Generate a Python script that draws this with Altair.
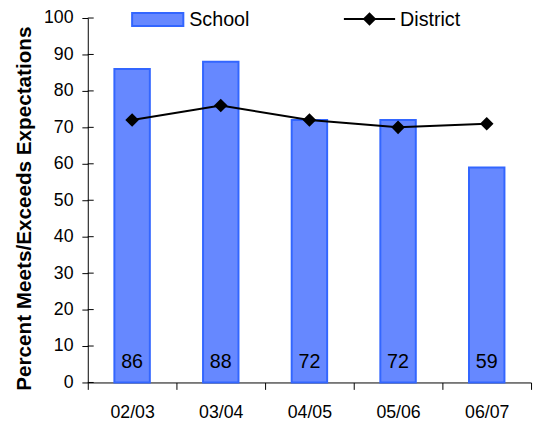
import altair as alt
import pandas as pd

years = ["02/03", "03/04", "04/05", "05/06", "06/07"]
school = [86, 88, 72, 72, 59]
district = [72, 76, 72, 70, 71]
y_ticks = list(range(0, 101, 10))

df = pd.DataFrame({"year": years, "school": school, "district": district})
ticks_df = pd.DataFrame({"v": y_ticks})

FONT = "Liberation Sans"
BAR_FILL = "#6688FF"
BAR_STROKE = "#3366FF"

x_enc = alt.X(
    "year:N", sort=years,
    scale=alt.Scale(paddingInner=0, paddingOuter=0),
    axis=alt.Axis(title=None, labelAngle=0, tickBand="extent", tickSize=7,
                  labelPadding=15, labelFontSize=18, labelFont=FONT,
                  labelColor="black", domainColor="black", tickColor="black",
                  domainWidth=1, tickWidth=1),
)
y_scale = alt.Scale(domain=[0, 100], nice=False)
y_axis = alt.Axis(values=y_ticks, tickSize=6, labelPadding=9, labelFontSize=18,
                  labelFont=FONT, labelColor="black", domainColor="black",
                  tickColor="black", grid=False,
                  title="Percent Meets/Exceeds Expectations", titleFont=FONT,
                  titleFontSize=21, titleFontWeight="bold", titleColor="black",
                  titleX=-64, titleY=193, titleBaseline="middle", titleAlign="center")

base = alt.Chart(df)

bars = base.mark_bar(size=36, color=BAR_FILL, stroke=BAR_STROKE, strokeWidth=2).encode(
    x=x_enc, y=alt.Y("school:Q", scale=y_scale, axis=y_axis)
)

labels = base.mark_text(font=FONT, fontSize=20, color="black", baseline="middle").encode(
    x=alt.X("year:N", sort=years), y=alt.value(349), text="school:Q"
)

line = base.mark_line(color="black", strokeWidth=2).encode(
    x=alt.X("year:N", sort=years), y=alt.Y("district:Q", scale=y_scale, axis=y_axis)
)
pts = base.mark_point(shape="diamond", filled=True, size=190, color="black", opacity=1).encode(
    x=alt.X("year:N", sort=years), y=alt.Y("district:Q", scale=y_scale, axis=y_axis)
)

inner_ticks = alt.Chart(ticks_df).mark_rule(color="black", strokeWidth=1).encode(
    y=alt.Y("v:Q", scale=y_scale, axis=y_axis), x=alt.value(0), x2=alt.value(6)
)

# legend along the top edge
leg_df = pd.DataFrame({"a": [0]})
leg_rect = alt.Chart(leg_df).mark_rect(color=BAR_FILL, stroke=BAR_STROKE, strokeWidth=2).encode(
    x=alt.value(45), x2=alt.value(97), y=alt.value(-5), y2=alt.value(8)
)
leg_school = alt.Chart(leg_df).mark_text(font=FONT, fontSize=20, align="left", baseline="alphabetic", color="black", text="School").encode(
    x=alt.value(103), y=alt.value(8)
)
leg_line = alt.Chart(leg_df).mark_rule(color="black", strokeWidth=2).encode(
    x=alt.value(260), x2=alt.value(312), y=alt.value(1)
)
leg_pt = alt.Chart(leg_df).mark_point(shape="diamond", filled=True, size=190, color="black", opacity=1).encode(
    x=alt.value(286), y=alt.value(1)
)
leg_district = alt.Chart(leg_df).mark_text(font=FONT, fontSize=20, align="left", baseline="alphabetic", color="black", text="District").encode(
    x=alt.value(317), y=alt.value(8)
)

chart = alt.layer(
    bars, labels, inner_ticks, line, pts,
    leg_rect, leg_school, leg_line, leg_pt, leg_district
).properties(
    width=450, height=370,
    autosize=alt.AutoSizeParams(type="none"),
    padding={"left": 81, "top": 7, "right": 3, "bottom": 40},
    background="white",
).configure_view(stroke=None)

chart.save("out.html", embed_options={"renderer": "svg", "actions": False})
